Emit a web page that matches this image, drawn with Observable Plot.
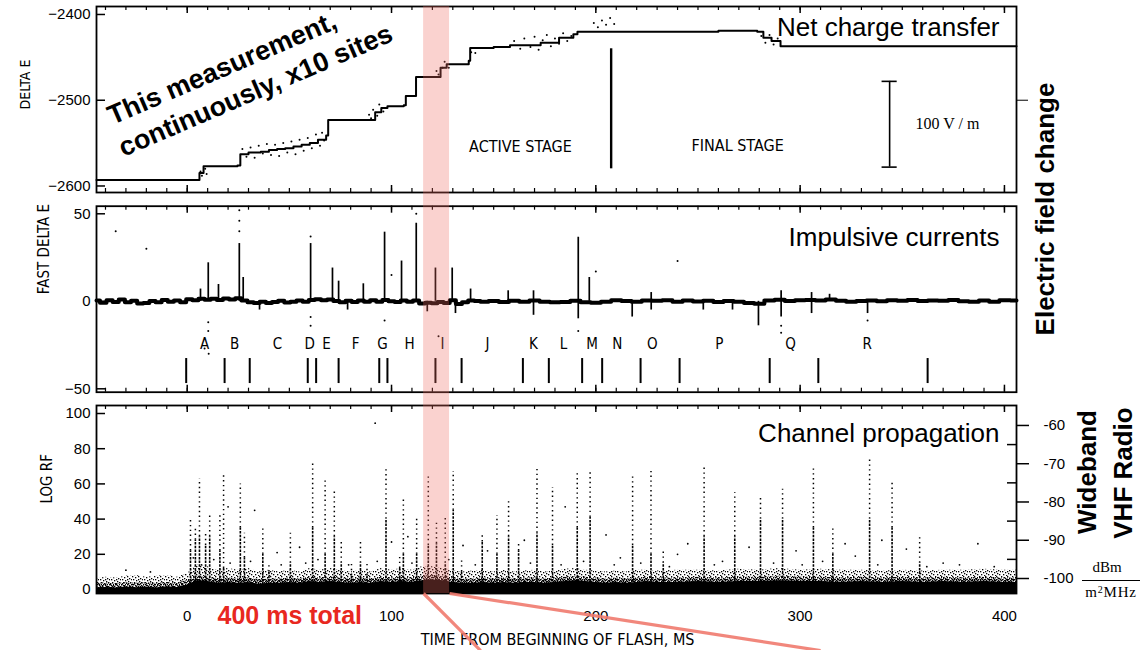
<!DOCTYPE html>
<html><head><meta charset="utf-8">
<script src="https://cdn.jsdelivr.net/npm/d3@7"></script>
<script src="https://cdn.jsdelivr.net/npm/@observablehq/plot@0.6"></script>
<style>
body{margin:0;background:#fff;}
#wrap{position:relative;width:1141px;height:650px;overflow:hidden;font-family:"Liberation Sans",Arial,sans-serif;}
.panel{position:absolute;left:0;}
.panel svg{display:block;}
.rot{position:absolute;transform:translate(-50%,-50%) rotate(-90deg);white-space:nowrap;font-weight:bold;font-size:26px;line-height:1;}
.serif{position:absolute;font-family:"Liberation Serif","Times New Roman",serif;font-size:15px;transform:translate(-50%,-50%);white-space:nowrap;line-height:1;}
.bar{position:absolute;height:0;border-top:1.3px solid #000;}
</style></head><body><div id="wrap"></div>
<script>
// ---------- shared ----------
const xDomain = [-44.4, 405.9];
const bandMs = [115.7, 128.4];
const tick10 = [-40,-30,-20,-10,0,10,20,30,40,50,60,70,80,90,100,110,120,130,140,150,160,170,180,190,200,210,220,230,240,250,260,270,280,290,300,310,320,330,340,350,360,370,380,390,400];
const tick100 = [0,100,200,300,400];
const timeTicks = [0,100,200,300,400];

// ---------- top panel: net charge transfer ----------
const deltaTicks = [-2400,-2500,-2600];
const netCharge = [[-44.4,-2593],[5,-2593],[6,-2585],[8,-2577],[24.6,-2576],[26,-2563],[30,-2561],[36,-2560],[40,-2558],[44,-2557],[48,-2556],[52,-2554],[56,-2552],[60,-2550],[64,-2546],[68,-2541],[69,-2523],[88,-2523],[92,-2514],[95,-2509],[98,-2507],[106,-2506],[107,-2495],[111.8,-2495],[112,-2473],[121.5,-2473],[124,-2462],[127,-2458],[137.8,-2454],[138.5,-2439],[150,-2438],[158,-2436],[173,-2433],[182,-2427],[189,-2423],[191,-2420],[230,-2420],[260,-2419],[279,-2420],[282,-2427],[286,-2431],[290.4,-2437],[405.9,-2437]];
const netDots = [[6.5,-2583],[7.2,-2588],[8.8,-2580],[9.5,-2586],[27,-2557],[29,-2566],[31,-2555],[33,-2567],[35,-2553],[37,-2562],[39,-2551],[41,-2564],[43,-2552],[45,-2565],[47,-2550],[49,-2561],[51,-2548],[53,-2563],[55,-2546],[57,-2559],[59,-2544],[61,-2556],[63,-2540],[65,-2553],[66,-2538],[67,-2547],[89,-2517],[90,-2521],[91,-2511],[93,-2518],[94,-2505],[96,-2513],[122,-2466],[123,-2470],[125,-2462],[126,-2455],[128,-2462],[139,-2444],[141,-2445],[160,-2431],[163,-2440],[165,-2428],[168,-2438],[170,-2426],[172,-2441],[174,-2430],[176,-2424],[178,-2437],[180,-2428],[182,-2434],[184,-2422],[186,-2431],[188,-2425],[199,-2410],[201,-2415],[203,-2407],[205,-2412],[207,-2404],[209,-2411],[281,-2425],[283,-2433],[285,-2424],[287,-2435],[289,-2428]];
const stageLabels = [{t:163.1,v:-2554,label:"ACTIVE STAGE"},{t:269.4,v:-2553,label:"FINAL STAGE"}];
const stageDivider = [{t:207.5,v1:-2440,v2:-2580}];
const scaleBar = [{t:343.8,v1:-2478,v2:-2578,half:3.7}];
const scaleLabel = [{t:356.5,v:-2528,label:"100 V / m"}];
const calloutLines = [{t:-38.2,v:-2519.6,label:"This measurement,"},{t:-32.8,v:-2556.9,label:"continuously, x10 sites"}];
const panelTitle1 = [{t:397.6,v:-2415.3,label:"Net charge transfer"}];

// ---------- middle panel: fast delta E ----------
const fastTicks = [50,0,-50];
const fastBaseline = [[-44.4,0.5],[-41,-0.8],[-38,0.6],[-35,-0.4],[-32,1.0],[-29,-0.6],[-26,0.3],[-23,-1.2],[-20,-0.9],[-17,0.2],[-14,-0.5],[-11,0.8],[-8,-0.3],[-5,0.4],[-2,-0.6],[1,1.2],[4,0.6],[7,1.5],[10,0.9],[13,1.4],[16,0.7],[19,1.6],[22,1.0],[25,1.8],[28,0.4],[31,-0.5],[34,-0.9],[37,-0.2],[40,-1.0],[43,-0.4],[46,0.3],[49,-0.7],[52,-0.2],[55,0.5],[58,-0.3],[61,0.8],[64,1.2],[67,0.6],[70,1.1],[73,0.2],[76,-0.6],[79,0.3],[82,-0.4],[85,0.5],[88,-0.2],[91,0.6],[94,-0.3],[97,0.7],[100,0.1],[103,-0.4],[106,0.5],[109,-0.3],[112,0.4],[115,-1.3],[118,-0.8],[121,-1.1],[124,-0.4],[127,-0.9],[130,0.6],[133,-1.5],[136,-0.6],[139,0.4],[142,0.2],[145,-0.3],[150,0.2],[155,-0.4],[160,0.3],[165,-0.2],[170,0.5],[175,-0.3],[180,-0.6],[185,-0.4],[190,0.3],[195,-0.5],[200,-0.8],[205,-0.3],[210,0.6],[215,0.2],[220,-0.3],[225,0.5],[230,0.3],[235,0.6],[240,-0.2],[245,0.4],[250,-0.1],[255,0.3],[260,-0.4],[265,0.2],[270,-0.2],[275,-0.9],[280,-1.4],[285,0.4],[290,0.9],[295,0.2],[300,0.6],[305,0.8],[310,0.4],[315,1.0],[320,0.3],[325,-0.2],[330,0.2],[335,0.4],[340,0.1],[345,0.6],[350,0.3],[355,0.8],[360,0.2],[365,0.5],[370,0.3],[375,0.7],[380,0.1],[385,-0.2],[390,0.4],[395,-0.3],[400,0.6],[405.9,0.4]];
const fastSpikes = [[6.5,7],[10.3,22],[15.3,9.6],[25.5,33],[27.4,13.6],[35.4,-5],[60.4,33],[71.1,19],[74.1,11.5],[78.5,-5],[86.2,10],[96.6,39.5],[104.9,23],[112.1,44.6],[117.5,-6],[121.5,19],[129.7,19],[131.3,-7],[138.7,7],[157.1,6],[169.5,-8],[169.5,6],[191.4,36.6],[191.4,-10],[196.8,13.6],[217.8,-9],[227.1,5],[227.1,-5],[252.6,-5],[266.9,-5],[279.6,-14],[290.7,6],[290.7,-9],[305.6,5],[305.6,-7],[314.4,4],[333,-7]];
const fastDots = [[25.5,40],[25.5,46],[25.5,52],[60.4,37],[60.4,-9],[60.4,-14],[10.3,-12],[10.3,-17],[8.5,-27],[10.5,-30],[96.6,-11],[112.1,50],[191.4,-17],[290.7,-14],[290.7,-18],[333,-11],[-20,30],[-35,40],[123,-20],[200,17],[240,23],[100,15]];
const strokeLetters = ["A","B","C","D","E","F","G","H","I","J","K","L","M","N","O","P","Q","R"];
const letterTimes = [8.5,23.2,44.2,59.9,68.2,82.4,95.6,108.8,124.9,147,169.5,184.2,198.2,210.5,227.7,260.5,295.3,332.8];
const markerTimes = [-0.5,18.3,30.6,59,63.1,74.1,94,98,121.5,134.3,164.3,177,193.3,203.1,221.9,241,285.1,308.9,362.4];
const panelTitle2 = [{t:397.6,v:36.6,label:"Impulsive currents"}];

// ---------- bottom panel: log RF ----------
const rfTicks = [0,20,40,60,80,100];
const dbmTicks = [-60,-70,-80,-90,-100];
const dbmMinor = [-65,-75,-85,-95];
// [time ms, solid floor top, speckle top]
const rfFloor = [[-44.4,1.0,6],[-40,1.2,7],[-35,0.8,6.5],[-30,1.4,7.5],[-25,1.0,8],[-20,1.3,7],[-15,0.9,7.5],[-10,1.5,8],[-5,1.2,7],[0,2.5,9],[5,5,14],[10,4.5,13],[15,3.5,11],[20,4,12],[25,3.5,11],[30,4,12],[35,3,10],[40,3.5,11],[45,3.5,10],[50,4,11],[55,3.5,10],[60,4.5,12],[65,4,11],[70,4.5,12],[75,4,11],[80,3.5,10],[85,4,11],[90,3.5,10],[95,4.5,12],[100,4,11],[105,4.5,12],[110,4,11],[115,5,13],[120,5.5,13],[125,5,12],[130,4,11],[135,3.5,10],[140,3.5,10.5],[145,4,11],[150,3.5,10],[155,4,11],[160,3.5,10],[165,4,10.5],[170,4,11],[175,3.5,10],[180,4,10.5],[185,4.5,11.5],[190,5,12],[195,4.5,11],[200,4,10.5],[205,3.5,10],[210,4,10.5],[215,3.5,10],[220,4,11],[225,4.5,11],[230,4,10.5],[240,4,11],[250,4.5,11],[260,4,10.5],[270,4.5,11.5],[280,4.5,11],[290,5,12],[300,4.5,11],[310,4.5,11.5],[320,4,11],[330,4.5,11],[340,4,10.5],[350,4.5,11],[360,4,10.5],[370,4.5,11],[380,4,11],[390,4.5,11.5],[400,4,11],[405.9,4,11]];
// [time ms, dense part top, sparse dotted top]
const rfSpikes = [[1.6,22,40],[4,28,36],[6,30,63],[9,25,32],[11,30,43],[16,22,42],[17.8,12,66],[26,35,60],[28,18,32],[37,20,36],[40,10,15],[50.5,15,32],[61.4,35,72],[67.5,20,63],[72,30,57],[75.4,15,28],[80.4,8,15],[84.8,15,28],[88,8,15],[97.3,40,69],[104,12,19],[105.8,20,52],[112.3,20,41],[118,25,64],[122,26,39],[126.3,15,41],[130.2,45,67],[134.3,10,18],[144.4,27,32],[151.6,20,42],[157.3,30,50],[162.2,22,26],[171.2,32,69],[178.8,25,58],[190.9,35,67],[197.2,41,67],[218,25,64],[227,20,67],[233,15,22],[253,30,70],[268,30,55],[280.6,40,53],[291.4,40,57],[306.5,35,69],[316,20,35],[334,40,74],[345,35,62],[358.5,15,31]];
const rfDots = [[-30,11],[-18,10],[20,47],[33,45],[44,21],[55,24],[92,94.5],[100,27],[108,30],[135,25],[147,22],[165,28],[185,47],[205,31],[212,18],[240,20],[245,26],[262,16],[275,24],[298,22],[322,26],[327,19],[340,28],[352,23],[370,15],[387,26],[395,13],[3,18],[7,14],[13,17],[21,15],[31,16],[46,14],[58,15],[64,17],[79,14],[93,16],[110,15],[128,17],[141,14],[168,15],[183,14],[194,16],[209,14],[222,15],[236,13],[258,14],[287,15],[301,14],[311,16],[338,14],[362,13],[378,14]];
const zoomLinks = [{x1:115.7,y1:-2.27,x2:143.6,y2:-34.7},{x1:128.4,y1:-2.27,x2:310,y2:-34.7}];
const panelTitle3 = [{t:397.6,v:88.4,label:"Channel propagation"}];
const totalNote = [{t:50.2,v:-15.3,label:"400 ms total"}];
const xTitle = [{t:181.3,v:-28.4,label:"TIME FROM BEGINNING OF FLASH, MS"}];
// dBm (right axis) -> LOG RF (left axis) calibration
const dbmToLeft = d => 6.25 + (d + 100) * 2.174;
const leftToDbm = v => Math.round((v - 6.25) / 2.174 - 100);

// ---------- helpers ----------
const NARROW = "'Liberation Sans Narrow','DejaVu Sans Condensed','Liberation Sans',sans-serif";
const SANS = "'Liberation Sans',Arial,sans-serif";
const frameW = 920;
const band = (y1, y2) => Plot.rect([bandMs], {x1: d => d[0], x2: d => d[1], y1, y2, fill: "#ee6b60", fillOpacity: 0.3});
const edgeTicks = fh => [
  Plot.tickX(tick10, {insetBottom: fh - 4, strokeWidth: 1.2}),
  Plot.tickX(tick10, {insetTop: fh - 4, strokeWidth: 1.2}),
  Plot.tickX(tick100, {insetBottom: fh - 7, strokeWidth: 1.5}),
  Plot.tickX(tick100, {insetTop: fh - 7, strokeWidth: 1.5})
];
const base = {width: 1141, marginLeft: 96, marginRight: 125,
  style: {fontFamily: SANS, fontSize: "15px", background: "none", color: "#000", overflow: "visible"}};
const wrap = document.getElementById("wrap");
function place(svg, top) { const d = document.createElement("div"); d.className = "panel"; d.style.top = top + "px"; d.appendChild(svg); wrap.appendChild(d); }

// ---------- panel 1 ----------
const y1Dom = [-2607.6, -2390.7];
const p1 = Plot.plot({...base, height: 200, marginTop: 6, marginBottom: 8,
  x: {domain: xDomain, axis: null, label: null},
  y: {domain: y1Dom, axis: null, label: null},
  marks: [
    Plot.axisY(deltaTicks, {anchor: "left", label: null, tickSize: 0, tickPadding: 6, tickFormat: d => "\u2212" + Math.abs(d)}),
    Plot.tickY(deltaTicks, {insetRight: frameW - 9, strokeWidth: 1.5}),
    Plot.axisY([-2500], {anchor: "right", label: null, tickSize: 11, tickFormat: () => ""}),
    ...edgeTicks(186),
    Plot.line(netCharge, {x: d => d[0], y: d => d[1], curve: "step-after", strokeWidth: 2}),
    Plot.dot(netDots, {x: d => d[0], y: d => d[1], r: 1, fill: "#000", stroke: null}),
    Plot.ruleX(stageDivider, {x: "t", y1: "v1", y2: "v2", strokeWidth: 2.4}),
    Plot.ruleX(scaleBar, {x: "t", y1: "v1", y2: "v2", strokeWidth: 1.6}),
    Plot.ruleY(scaleBar, {y: "v1", x1: d => d.t - d.half, x2: d => d.t + d.half, strokeWidth: 1.6}),
    Plot.ruleY(scaleBar, {y: "v2", x1: d => d.t - d.half, x2: d => d.t + d.half, strokeWidth: 1.6}),
    Plot.text(stageLabels, {x: "t", y: "v", text: "label", fontSize: 16, fontFamily: NARROW}),
    Plot.text(scaleLabel, {x: "t", y: "v", text: "label", textAnchor: "start", fontSize: 16, fontFamily: "'Liberation Serif',serif"}),
    Plot.text(calloutLines, {x: "t", y: "v", text: "label", textAnchor: "start", rotate: -23.3, fontSize: 27, fontWeight: "bold", fontFamily: SANS}),
    Plot.text(panelTitle1, {x: "t", y: "v", text: "label", textAnchor: "end", fontSize: 26, fontFamily: SANS}),
    Plot.text(["DELTA E"], {frameAnchor: "left", dx: -71, dy: 10, rotate: -90, fontSize: 14, fontFamily: NARROW}),
    Plot.frame({stroke: "#000", strokeWidth: 1.8}),
    band(y1Dom[1], -2617)
  ]});
place(p1, 0);

// ---------- panel 2 ----------
const y2Dom = [-51.94, 54.34];
const p2 = Plot.plot({...base, height: 200, marginTop: 5.7, marginBottom: 8.3,
  x: {domain: xDomain, axis: null, label: null},
  y: {domain: y2Dom, axis: null, label: null},
  marks: [
    Plot.axisY(fastTicks, {anchor: "left", label: null, tickSize: 0, tickPadding: 6}),
    Plot.tickY(fastTicks, {insetRight: frameW - 9, strokeWidth: 1.5}),
    ...edgeTicks(186),
    Plot.ruleX(fastSpikes, {x: d => d[0], y1: 0, y2: d => d[1], strokeWidth: 1.7}),
    Plot.line(fastBaseline, {x: d => d[0], y: d => d[1], strokeWidth: 4, curve: "step"}),
    Plot.dot(fastDots, {x: d => d[0], y: d => d[1], r: 1, fill: "#000", stroke: null}),
    Plot.text(strokeLetters, {x: (d, i) => letterTimes[i], y: -24.7, text: d => d, fontSize: 15, fontFamily: NARROW}),
    Plot.ruleX(markerTimes, {x: d => d, y1: -32.7, y2: -47, strokeWidth: 2}),
    Plot.text(panelTitle2, {x: "t", y: "v", text: "label", textAnchor: "end", fontSize: 26, fontFamily: SANS}),
    Plot.text(["FAST DELTA E"], {frameAnchor: "left", dx: -52, dy: -5, rotate: -90, fontSize: 15, fontFamily: NARROW}),
    Plot.frame({stroke: "#000", strokeWidth: 1.8}),
    band(57.6, -56.7)
  ]});
place(p2, 200);

// ---------- panel 3 ----------
const y3Dom = [-2.27, 104.55];
const p3 = Plot.plot({...base, height: 250, marginTop: 5, marginBottom: 57,
  x: {domain: xDomain, axis: null, label: null},
  y: {domain: y3Dom, axis: null, label: null},
  marks: [
    Plot.axisY(rfTicks, {anchor: "left", label: null, tickSize: 0, tickPadding: 6}),
    Plot.tickY(rfTicks, {insetRight: frameW - 9, strokeWidth: 1.5}),
    Plot.axisY(dbmTicks.map(dbmToLeft), {anchor: "right", label: null, tickSize: 12, tickPadding: 15, strokeWidth: 1.5, tickFormat: v => String(leftToDbm(v))}),
    Plot.tickY(dbmMinor.map(dbmToLeft), {insetLeft: frameW - 9, strokeWidth: 1.5}),
    Plot.axisX(timeTicks, {anchor: "bottom", label: null, tickSize: 0, tickPadding: 17}),
    ...edgeTicks(188),
    Plot.areaY(rfFloor, {x: d => d[0], y1: y3Dom[0], y2: d => d[2], fill: "url(#speck)"}),
    Plot.areaY(rfFloor, {x: d => d[0], y1: y3Dom[0], y2: d => d[1] + 2.5, fill: "url(#speck2)"}),
    Plot.areaY(rfFloor, {x: d => d[0], y1: y3Dom[0], y2: d => d[1], fill: "#000"}),
    Plot.ruleX(rfSpikes, {x: d => d[0], y1: 0, y2: d => d[1], strokeWidth: 1.6, strokeDasharray: "2.5,1.2"}),
    Plot.ruleX(rfSpikes, {x: d => d[0], y1: d => d[1], y2: d => d[2], strokeWidth: 1.5, strokeDasharray: "1.4,3.4"}),
    Plot.dot(rfDots, {x: d => d[0], y: d => d[1], r: 0.9, fill: "#000", stroke: null}),
    Plot.text(panelTitle3, {x: "t", y: "v", text: "label", textAnchor: "end", fontSize: 26, fontFamily: SANS}),
    Plot.text(["LOG RF"], {frameAnchor: "left", dx: -49, dy: 4, rotate: -90, fontSize: 15, fontFamily: NARROW}),
    Plot.text(xTitle, {x: "t", y: "v", text: "label", fontSize: 16, fontFamily: NARROW}),
    Plot.frame({stroke: "#000", strokeWidth: 1.8}),
    band(107.4, y3Dom[0]),
    Plot.link(zoomLinks, {x1: "x1", y1: "y1", x2: "x2", y2: "y2", stroke: "#f07a6e", strokeWidth: 3.2, strokeOpacity: 0.9}),
    Plot.text(totalNote, {x: "t", y: "v", text: "label", fontSize: 25, fontWeight: "bold", fill: "#e8281f", fontFamily: SANS})
  ]});
// speckle textures for the dense noise floor
const defs = d3.select(p3).insert("defs", ":first-child");
const speckA = [[0,0],[3,1],[6,0],[8,2],[1,3],[4,4],[7,5],[2,6],[5,7],[9,6],[10,3],[6,3]];
const speckB = [[0,0],[2,1],[4,0],[1,2],[3,3],[5,2],[0,4],[2,5],[4,4],[5,5],[1,6],[3,6]];
const pa = defs.append("pattern").attr("id", "speck").attr("patternUnits", "userSpaceOnUse").attr("width", 11).attr("height", 8);
speckA.forEach(([x, y]) => pa.append("rect").attr("x", x).attr("y", y).attr("width", 1.3).attr("height", 1.3).attr("fill", "#000"));
const pb = defs.append("pattern").attr("id", "speck2").attr("patternUnits", "userSpaceOnUse").attr("width", 6).attr("height", 7);
speckB.forEach(([x, y]) => pb.append("rect").attr("x", x).attr("y", y).attr("width", 1.4).attr("height", 1.4).attr("fill", "#000"));
place(p3, 400);

// ---------- side labels ----------
function addDiv(cls, html, left, top, extra) {
  const d = document.createElement("div"); d.className = cls; d.innerHTML = html;
  d.style.left = left + "px"; d.style.top = top + "px";
  if (extra) Object.assign(d.style, extra);
  wrap.appendChild(d); return d;
}
addDiv("rot", "Electric field change", 1045, 209);
addDiv("rot", "Wideband", 1087, 472);
addDiv("rot", "VHF Radio", 1123, 473);
addDiv("serif", "dBm", 1107, 567);
addDiv("serif", "m<sup style=\"font-size:10px;vertical-align:4px\">2</sup>MHz", 1111, 592, {letterSpacing: "0.8px"});
addDiv("bar", "", 1082, 580, {width: "58px"});
</script></body></html>
